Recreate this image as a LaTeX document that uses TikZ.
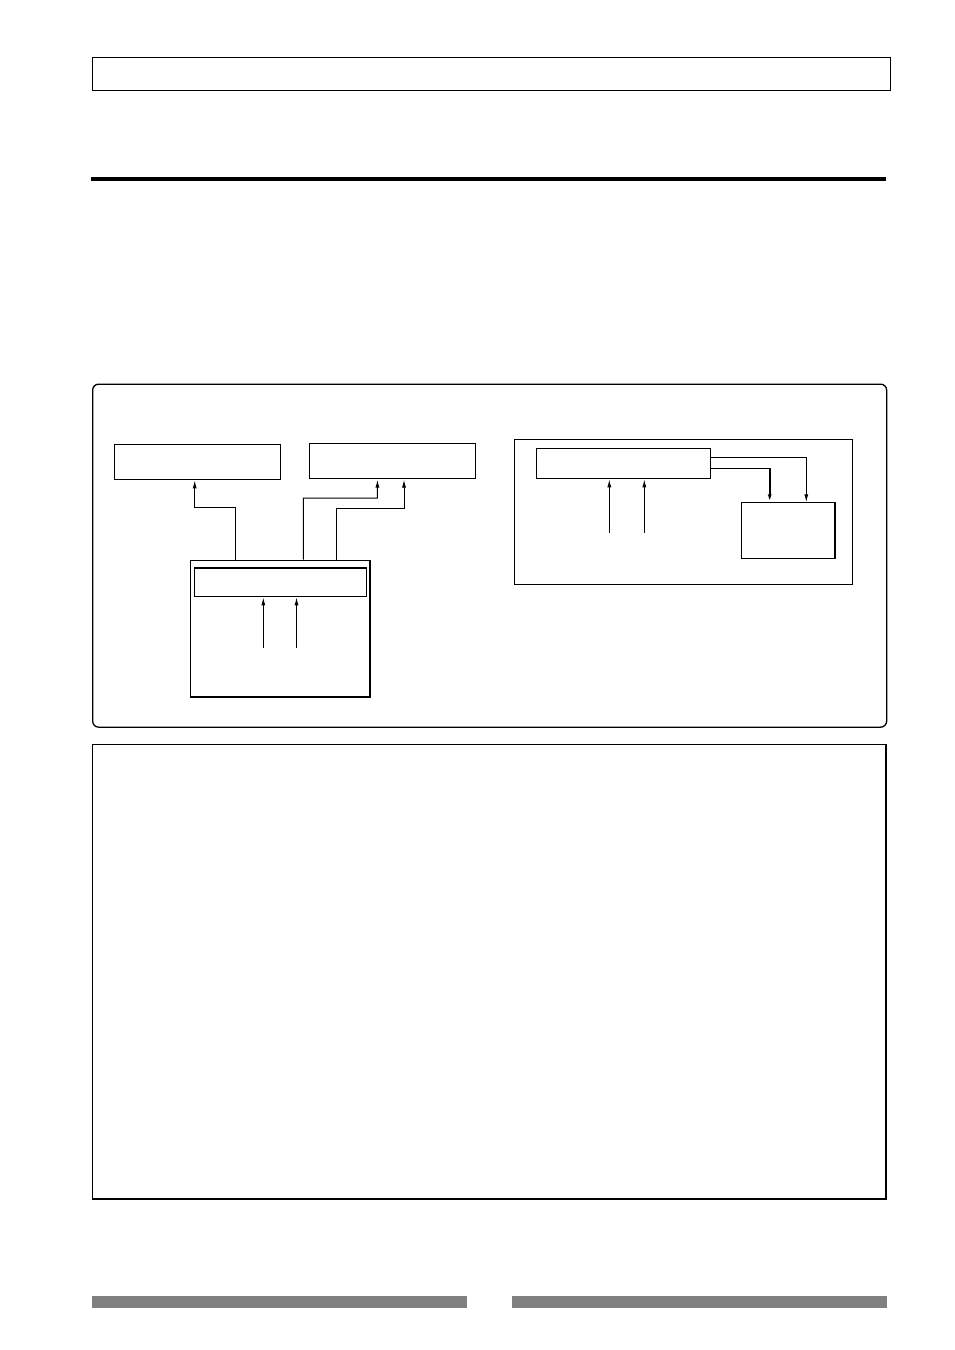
\documentclass[tikz,border=0pt]{standalone}
\usetikzlibrary{arrows.meta,calc}
\begin{document}
\begin{tikzpicture}[x=1pt,y=-1pt,
  box/.style={draw,line width=1pt,inner sep=0pt,anchor=north west},
  arr/.style={line width=1pt,-{Latex[length=8pt,width=4pt]}},
  wire/.style={line width=1pt}]
\useasboundingbox (0,0) rectangle (954,1350);
\fill[white] (0,0) rectangle (954,1350);
% header box and rule
\node[box,minimum width=798pt,minimum height=33pt] (top) at (92,57) {};
\fill (91,176.8) rectangle (886,181.2);
% diagram frame
\node[box,line width=1.3pt,rounded corners=6pt,minimum width=794pt,minimum height=343pt] (frame) at (92,383.5) {};
% left group
\node[box,minimum width=166pt,minimum height=35pt] (A) at (114.3,444.3) {};
\node[box,line width=1.6pt,minimum width=166pt,minimum height=35pt] (B) at (308.5,442.5) {};
\node[box,minimum width=178.5pt,minimum height=136.5pt] (C) at (190.3,559.5) {};
\draw[line width=1.8pt] (C.north east) -- (C.south east) -- (C.south west);
\node[box,minimum width=171.3pt,minimum height=28.5pt] (D) at (194.3,567.8) {};
\draw[line width=1.8pt] (D.north west) -- (D.north east);
\coordinate (d1) at (263.3,648.3);
\coordinate (d2) at (296.5,648.3);
\draw[arr] (d1) -- (d1 |- D.south);
\draw[arr] (d2) -- (d2 |- D.south);
\draw[arr] ($(C.north west)+(45,0)$) |- (194.7,507) -- (194.7,0 |- A.south);
\draw[arr] ($(C.north west)+(113,0)$) |- (377.3,498) -- ($(B.south west)+(69,0.5)$);
\draw[arr] ($(C.north west)+(146,0)$) |- (404,508.3) -- ($(B.south west)+(95.5,0.5)$);
% right group
\node[box,minimum width=338pt,minimum height=145pt] (E) at (514.3,439.3) {};
\node[box,minimum width=174pt,minimum height=30pt] (F) at (536.3,448.3) {};
\node[box,minimum width=93pt,minimum height=55.7pt] (G) at (741,502.3) {};
\draw[line width=1.8pt] (G.north east) -- (G.south east);
\coordinate (f1) at (609.3,532.7);
\coordinate (f2) at (644.3,532.7);
\draw[arr] (f1) -- (f1 |- F.south);
\draw[arr] (f2) -- (f2 |- F.south);
\draw[arr] (F.east |- 0,457.3) -| ($(G.north west)+(65.3,0)$);
\draw[wire] (F.east |- 0,468.3) -- (769.7,468.3);
\draw[arr,line width=1.8pt] (769.7,468.3) -- ($(G.north west)+(28.7,0)$);
% bottom box
\node[box,line width=1.3pt,minimum width=793pt,minimum height=454.5pt] (bot) at (92,744) {};
\draw[line width=2.4pt] ($(bot.north east)+(-0.6,0)$) -- ($(bot.south east)+(-0.6,-0.6)$) -- ($(bot.south west)+(0,-0.6)$);
% footer bars
\fill[black!50] (92,1296) rectangle (467,1308);
\fill[black!50] (512,1296) rectangle (887,1308);
\end{tikzpicture}
\end{document}
